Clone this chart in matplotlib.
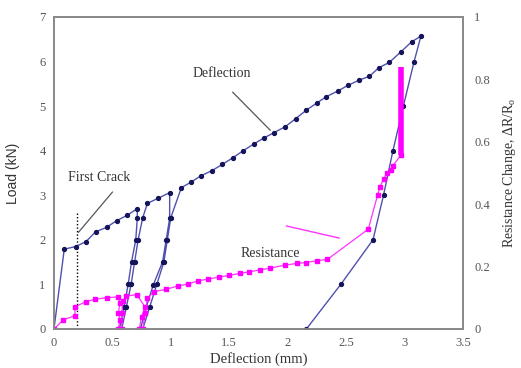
import matplotlib.pyplot as plt

# -----------------------------
# Data
# -----------------------------
defl_x = [0.0, 0.088, 0.186, 0.274, 0.356, 0.45, 0.536, 0.627, 0.713,
          0.713, 0.70, 0.664, 0.636, 0.60, 0.56,
          0.58, 0.62, 0.66, 0.69, 0.72, 0.76, 0.80, 0.89, 0.99,
          0.99, 0.96, 0.93, 0.85, 0.79, 0.74,
          0.76, 0.82, 0.88, 0.94, 0.97, 1.00, 1.09,
          1.17, 1.26, 1.35, 1.44, 1.53, 1.62, 1.71, 1.80, 1.88, 1.98,
          2.07, 2.16, 2.25, 2.33, 2.43, 2.52, 2.61, 2.70, 2.78, 2.87,
          2.97, 3.06, 3.14,
          3.08, 2.99, 2.90, 2.82, 2.73, 2.46, 2.16]
defl_load = [0.0, 1.79, 1.85, 1.96, 2.18, 2.28, 2.43, 2.55, 2.70,
             2.48, 2.0, 1.51, 1.02, 0.5, 0.0,
             0.0, 0.5, 1.0, 1.5, 2.0, 2.5, 2.82, 2.93, 3.06,
             2.48, 2.0, 1.51, 0.99, 0.5, 0.0,
             0.0, 0.5, 1.0, 1.5, 2.0, 2.5, 3.17,
             3.29, 3.44, 3.55, 3.69, 3.84, 4.00, 4.15, 4.29, 4.40, 4.54,
             4.72, 4.91, 5.07, 5.21, 5.34, 5.47, 5.58, 5.67, 5.86, 5.98,
             6.22, 6.44, 6.57,
             5.98, 5.0, 3.99, 3.0, 2.0, 1.02, 0.0]

res_x = [0.0, 0.08, 0.18, 0.18, 0.274, 0.35, 0.45, 0.55,
         0.565, 0.55, 0.565, 0.55, 0.58, 0.58, 0.59, 0.62, 0.71,
         0.78, 0.75, 0.73, 0.76, 0.78, 0.80, 0.86, 0.96, 1.06, 1.15,
         1.23, 1.32, 1.41, 1.50, 1.59, 1.67, 1.76, 1.85, 1.98, 2.08,
         2.16, 2.25, 2.34, 2.69, 2.77, 2.79, 2.82, 2.85, 2.88, 2.90, 2.97]
res_val = [0.0, 0.029, 0.043, 0.071, 0.088, 0.095, 0.10, 0.103,
           0.082, 0.05, 0.03, 0.0, 0.0, 0.05, 0.09, 0.106, 0.11,
           0.07, 0.04, 0.0, 0.0, 0.05, 0.10, 0.12, 0.127, 0.138, 0.144,
           0.154, 0.16, 0.166, 0.172, 0.178, 0.183, 0.189, 0.195, 0.205, 0.21,
           0.213, 0.219, 0.223, 0.32, 0.43, 0.456, 0.48, 0.50, 0.51, 0.523, 0.558]

# final jump in resistance (thick bar)
jump_x = [2.97, 2.97]
jump_val = [0.558, 0.84]

x_ticks = [0, 0.5, 1, 1.5, 2, 2.5, 3, 3.5]
x_labels = ["0", "0.5", "1", "1.5", "2", "2.5", "3", "3.5"]
load_ticks = [0, 1, 2, 3, 4, 5, 6, 7]
res_ticks = [0, 0.2, 0.4, 0.6, 0.8, 1]
res_labels = ["0", "0.2", "0.4", "0.6", "0.8", "1"]

# -----------------------------
# Plot
# -----------------------------
plt.rcParams["font.family"] = ["Liberation Serif", "DejaVu Serif"]
fig = plt.figure(figsize=(5.21, 3.68), dpi=100)
ax = fig.add_axes([0.1036, 0.106, 0.785, 0.848])
ax2 = ax.twinx()

ax.plot(defl_x, defl_load, color="#5050b0", lw=1.0, marker="o",
        markersize=2.8, markerfacecolor="#14145a", markeredgecolor="#14145a",
        zorder=3)

ax2.plot(res_x, res_val, color="#ff33ff", lw=0.9, marker="s", markersize=3.2,
         markerfacecolor="#ff00ff", markeredgecolor="#ff00ff", zorder=2)
ax2.plot(jump_x, jump_val, color="#ff00ff", lw=4, solid_capstyle="butt")

ax.set_xlim(0, 3.5)
ax.set_ylim(0, 7)
ax2.set_ylim(0, 1)
ax.set_xticks(x_ticks, x_labels)
ax.set_yticks(load_ticks)
ax2.set_yticks(res_ticks, res_labels)

for a in (ax, ax2):
    a.tick_params(length=0, labelsize=9, labelcolor="#555555", pad=6)
    for s in a.spines.values():
        s.set_color("#8a8a8a")
        s.set_linewidth(1.3)
ax2.tick_params(pad=8)

ax.set_xlabel("Deflection (mm)", fontsize=10.5, color="#333333", labelpad=2)
ax.set_ylabel("Load (kN)", fontsize=10, color="#333333",
              family=["Liberation Sans", "DejaVu Sans"], labelpad=14)
ax2.set_ylabel("Resistance Change, ΔR/R$_\\mathregular{o}$", fontsize=10,
               color="#333333", labelpad=8)

# annotations
ax.text(1.44, 5.72, "Deflection", fontsize=10, color="#333333",
        ha="center", va="center")
ax.plot([1.53, 1.85], [5.31, 4.46], color="#555555", lw=0.9)

ax.text(0.39, 3.39, "First Crack", fontsize=10, color="#333333",
        ha="center", va="center")
ax.plot([0.50, 0.21], [3.07, 2.17], color="#555555", lw=0.9)
ax.plot([0.2, 0.2], [0, 2.6], color="black", lw=1.0, ls=(0, (1, 1.5)))

ax.text(1.85, 1.70, "Resistance", fontsize=10, color="#333333",
        ha="center", va="center")
ax.plot([1.99, 2.44], [2.31, 2.04], color="#ff33ff", lw=1.0)

fig.savefig("out.png", dpi=100)
